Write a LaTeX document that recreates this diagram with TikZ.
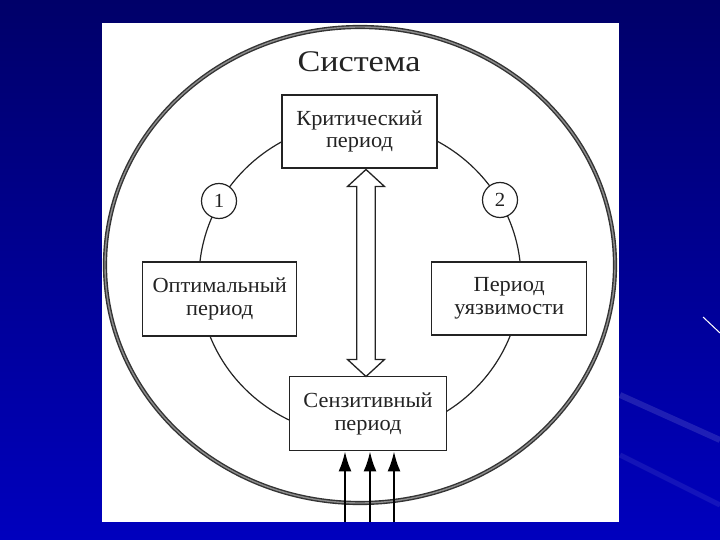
\documentclass[tikz,border=0pt]{standalone}
\usepackage{fontspec}
\setmainfont{Liberation Serif}
\newfontfamily\scanfont[FakeStretch=1.04]{Liberation Serif}
\newfontfamily\titlefont[FakeStretch=1.14]{Liberation Serif}
\usetikzlibrary{arrows.meta,calc}
\definecolor{bgtop}{RGB}{0,0,105}
\definecolor{bgbot}{RGB}{0,0,190}
\definecolor{ink}{RGB}{35,35,35}
\begin{document}
\begin{tikzpicture}[x=1pt,y=-1pt,
  periodbox/.style={draw=ink,line width=1.4pt,fill=white,minimum width=155pt,minimum height=73pt,inner sep=0pt,align=center,text=ink,font=\fontsize{21.5}{22.8}\scanfont},
  numcircle/.style={circle,draw=ink,line width=1.2pt,fill=white,minimum size=35pt,inner sep=0pt,text=ink,font=\fontsize{20}{22}\scanfont},
  cycleline/.style={draw=ink,line width=1.2pt},
  systemline/.style={draw=black!80,line width=1.4pt,double=black!45,double distance=1.4pt},
  inarrow/.style={draw=black,line width=2.2pt,-{Latex[length=20pt,width=13pt]}},
  hollow/.style={draw=ink,line width=1.3pt,fill=white,line join=miter}]
\useasboundingbox (0,0) rectangle (720,540);
% slide background
\shade[top color=bgtop,bottom color=bgbot] (0,0) rectangle (720,540);
\draw[white,opacity=0.12,line width=6pt] (620,395) -- (720,440);
\draw[white,opacity=0.08,line width=5pt] (620,455) -- (720,505);
\draw[white,line width=1pt] (703,317) -- (720,333);
% white card
\fill[white] (102,23) rectangle (619,522);
% system circle
\draw[systemline] (360,265) ellipse [x radius=255pt,y radius=238pt];
\node[text=ink,font=\fontsize{30}{32}\titlefont,anchor=base] (sys) at (359,72) {Система};
% cycle circle
\draw[cycleline] (360,279) ellipse [x radius=161pt,y radius=157pt];
% boxes
\node[periodbox] (crit) at (359.5,131.5) {Критический\\период};
\node[periodbox,minimum width=154pt,minimum height=74pt] (opt) at (219.7,299) {Оптимальный\\период};
\node[periodbox] (vul) at (509.2,298.3) {Период\\уязвимости};
\node[periodbox,minimum width=157pt,minimum height=74pt] (sens) at (368,413.7) {Сензитивный\\период};
% numbered circles
\node[numcircle] (n1) at (219,201) {1};
\node[numcircle] (n2) at (500,200) {2};
% hollow double arrow
\coordinate (atop) at (366,169.5);
\coordinate (abot) at (366,376.5);
\draw[hollow] (atop) -- ($(atop)+(18.5,17)$) -- ($(atop)+(9.3,17)$) -- ($(abot)+(9.3,-17)$) -- ($(abot)+(18.5,-17)$) -- (abot)
  -- ($(abot)+(-18.5,-17)$) -- ($(abot)+(-9.3,-17)$) -- ($(atop)+(-9.3,17)$) -- ($(atop)+(-18.5,17)$) -- cycle;
% input arrows
\coordinate (in1) at (345,522);
\coordinate (in2) at (370,522);
\coordinate (in3) at (394,522);
\draw[inarrow] (in1) -- (in1 |- sens.south);
\draw[inarrow] (in2) -- (in2 |- sens.south);
\draw[inarrow] (in3) -- (in3 |- sens.south);
\end{tikzpicture}
\end{document}
